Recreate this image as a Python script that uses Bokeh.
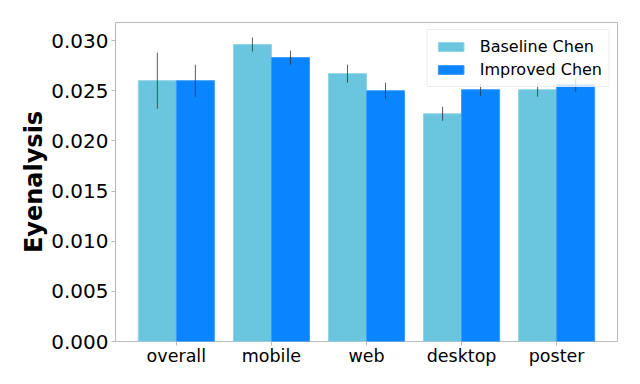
import numpy as np
from bokeh.plotting import figure
from bokeh.models import ColumnDataSource, Range1d, FixedTicker, Legend, LegendItem
from bokeh.embed import file_html
from bokeh.resources import INLINE

categories = ["overall", "mobile", "web", "desktop", "poster"]
baseline = [0.0260, 0.0296, 0.0267, 0.0227, 0.0251]
baseline_err = [0.0028, 0.0007, 0.0009, 0.0007, 0.0007]
improved = [0.0260, 0.0283, 0.0250, 0.0251, 0.0256]
improved_err = [0.0016, 0.0007, 0.0008, 0.0006, 0.0007]
y_ticks = [0.000, 0.005, 0.010, 0.015, 0.020, 0.025, 0.030]

idx = np.arange(len(categories))
bw = 0.4

p = figure(width=640, height=384, output_backend="svg", toolbar_location=None,
           x_range=Range1d(-0.64, 4.64), y_range=Range1d(0, 0.0318),
           min_border_left=115, min_border_right=23, min_border_top=22, min_border_bottom=43)

src_b = ColumnDataSource(dict(x=idx - bw / 2, top=baseline,
                              lo=np.array(baseline) - np.array(baseline_err),
                              hi=np.array(baseline) + np.array(baseline_err)))
src_i = ColumnDataSource(dict(x=idx + bw / 2, top=improved,
                              lo=np.array(improved) - np.array(improved_err),
                              hi=np.array(improved) + np.array(improved_err)))

rb = p.vbar(x="x", top="top", width=bw, source=src_b, fill_color="#6ac5de",
            line_color="#8fd3e6", line_width=1)
ri = p.vbar(x="x", top="top", width=bw, source=src_i, fill_color="#0a84ff",
            line_color="#3a9cff", line_width=1)
p.segment(x0="x", x1="x", y0="lo", y1="hi", source=src_b, line_color="#333333",
          line_width=1, line_alpha=0.8)
p.segment(x0="x", x1="x", y0="lo", y1="hi", source=src_i, line_color="#333333",
          line_width=1, line_alpha=0.8)

p.xgrid.visible = False
p.ygrid.visible = False
p.outline_line_color = "#bbbbbb"
p.outline_line_width = 1

p.xaxis.ticker = FixedTicker(ticks=list(idx))
p.xaxis.major_label_overrides = {int(i): c for i, c in zip(idx, categories)}
p.yaxis.ticker = FixedTicker(ticks=y_ticks)
p.yaxis.major_label_overrides = {t: f"{t:.3f}" for t in y_ticks}

for ax in (p.xaxis, p.yaxis):
    ax.axis_line_color = None
    ax.major_tick_line_color = "#bbbbbb"
    ax.major_tick_out = 4
    ax.major_tick_in = 0
    ax.minor_tick_line_color = None
    ax.major_label_text_font = "DejaVu Sans"
    ax.major_label_text_color = "black"

p.xaxis.major_label_text_font_size = "17.5px"
p.xaxis.major_label_standoff = 0
p.yaxis.major_label_text_font_size = "20px"
p.yaxis.major_label_standoff = 3
p.yaxis.axis_label = "Eyenalysis"
p.yaxis.axis_label_text_font = "DejaVu Sans"
p.yaxis.axis_label_text_font_size = "24px"
p.yaxis.axis_label_text_font_style = "bold"
p.yaxis.axis_label_text_color = "black"
p.yaxis.axis_label_standoff = 0

legend = Legend(items=[LegendItem(label="Baseline Chen", renderers=[rb]),
                       LegendItem(label="Improved Chen", renderers=[ri])],
                location="top_right")
legend.label_text_font = "DejaVu Sans"
legend.label_text_font_size = "16px"
legend.label_text_color = "black"
legend.glyph_width = 32
legend.glyph_height = 11
legend.label_standoff = 13
legend.spacing = 4
legend.padding = 7
legend.margin = 7
legend.border_line_color = "#dddddd"
legend.border_line_width = 1
legend.background_fill_alpha = 0.8
p.add_layout(legend)

open("out.html", "w").write(file_html(p, INLINE))
